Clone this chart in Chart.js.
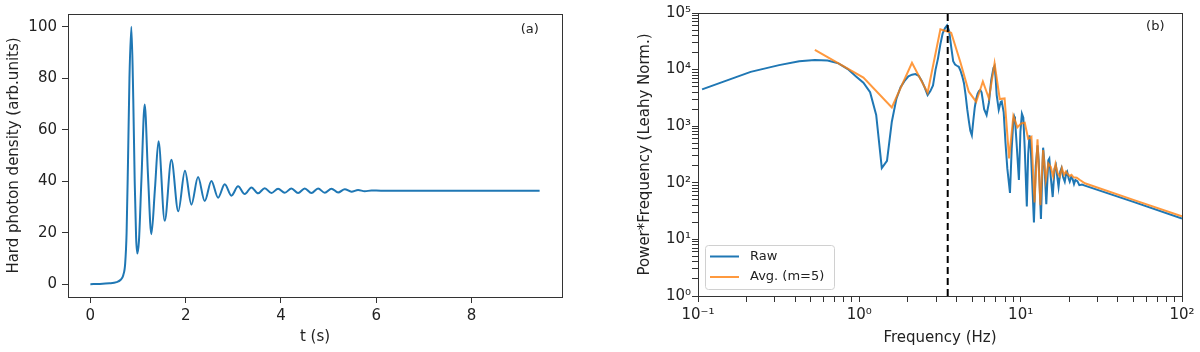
<!DOCTYPE html>
<html>
<head>
<meta charset="utf-8">
<script src="https://cdn.jsdelivr.net/npm/chart.js@4.4.0/dist/chart.umd.min.js"></script>
<style>
  html, body { margin: 0; padding: 0; background: #fff; }
  #wrap { position: relative; width: 1200px; height: 352px; overflow: hidden; }
  .panel { position: absolute; top: 0; width: 600px; height: 352px; }
</style>
</head>
<body>
<div id="wrap">
  <div class="panel" style="left:0"><canvas id="timeChart" width="600" height="352"></canvas></div>
  <div class="panel" style="left:600px"><canvas id="psdChart" width="600" height="352"></canvas></div>
</div>
<script>
// (a) light curve: hard photon density vs time
const timeSec = [0, 0.2, 0.4, 0.55, 0.63, 0.69, 0.73, 0.76, 0.79, 0.82, 0.86, 0.90, 0.93, 0.96, 0.985,
  1.02, 1.07, 1.14, 1.21, 1.28, 1.355, 1.43, 1.56, 1.70, 1.845, 1.985, 2.12, 2.26, 2.40, 2.54, 2.68,
  2.82, 2.96, 3.10, 3.24, 3.38, 3.52, 3.66, 3.80, 3.94, 4.08, 4.22, 4.36, 4.50, 4.64, 4.78, 4.92,
  5.06, 5.20, 5.34, 5.48, 5.62, 5.76, 5.90, 6.10, 9.43];
const photonDensity = [0, 0.05, 0.3, 0.8, 1.6, 3.5, 8, 20, 48, 80, 100, 72, 40, 18, 11.9,
  17, 40, 69.8, 42, 19.4, 37, 55.5, 24.6, 48.3, 28.3, 44.1, 30.9, 41.6, 32.3, 40.1, 33.6,
  38.8, 34.4, 38.0, 35.0, 37.6, 35.3, 37.3, 35.4, 37.1, 35.5, 37.2, 35.4, 37.2, 35.4, 37.2, 35.5,
  37.1, 35.6, 36.9, 35.9, 36.6, 36.1, 36.4, 36.3, 36.3];
const timeTicks = [0, 2, 4, 6, 8];
const densityTicks = [0, 20, 40, 60, 80, 100];

// (b) power spectrum (power * frequency, Leahy norm.)
const rawFreq = [0.106, 0.212, 0.318, 0.424, 0.530, 0.636, 0.742, 0.848, 0.954, 1.060, 1.166, 1.272,
  1.378, 1.484, 1.590, 1.696, 1.802, 1.908, 2.014, 2.120, 2.226, 2.332, 2.438, 2.544, 2.650, 2.756,
  2.862, 2.968, 3.074, 3.180, 3.286, 3.392, 3.498, 3.604, 3.710, 3.816, 3.922, 4.028, 4.134, 4.240,
  4.346, 4.452, 4.558, 4.664, 4.770, 4.876, 4.982, 5.088, 5.194, 5.300, 5.406, 5.512, 5.618, 5.724,
  5.830, 5.936, 6.148, 6.360, 6.572, 6.784, 6.890, 6.996, 7.102, 7.314, 7.526, 7.632, 7.844, 8.056,
  8.268, 8.586, 8.798, 9.010, 9.116, 9.222, 9.434, 9.752, 9.964, 10.176, 10.388, 10.600, 10.918,
  11.130, 11.342, 11.554, 12.084, 12.402, 12.720, 12.932, 13.356, 13.674, 13.780, 13.992, 14.416,
  14.840, 15.052, 15.370, 15.794, 16.218, 16.536, 16.960, 17.172, 17.596, 17.914, 18.338, 18.762,
  19.186, 19.398, 19.822, 20.140, 20.564, 20.988, 21.412, 21.836, 22.472, 23.108, 24.0, 25.0, 50.0, 100.0];
const rawPower = [4470, 9120, 12000, 14100, 14800, 14500, 12900, 10200, 7590, 5890, 3980, 1580,
  182, 245, 1200, 3020, 4900, 6310, 7590, 8130, 8320, 7760, 6310, 4790, 3550, 4170,
  5250, 10000, 15800, 28200, 43600, 53700, 60300, 47900, 25100, 14100, 12300, 11700, 11200, 9550,
  7590, 5750, 3550, 2000, 1260, 830, 690, 1260, 2140, 3020, 3720, 4170, 4370, 3980,
  2820, 2000, 1580, 2630, 6610, 10700, 11500, 7080, 3550, 1950, 2690, 2750, 1780, 500,
  178, 66, 400, 1260, 1480, 1320, 500, 112, 800, 1660, 1410, 400, 38,
  316, 690, 400, 20, 200, 457, 250, 23, 224, 417, 250, 42,
  251, 269, 126, 56, 178, 204, 112, 85, 158, 182, 126, 105,
  151, 158, 120, 105, 126, 117, 95, 112, 107, 91, 93, 89, 46, 23.4];
const avgFreq = [0.53, 1.06, 1.59, 2.12, 2.65, 3.18, 3.71, 4.24, 4.77, 5.30, 5.83, 6.36, 6.89, 7.42,
  7.95, 8.48, 9.01, 9.54, 10.07, 10.60, 11.13, 11.66, 12.19, 12.72, 13.25, 13.78, 14.31, 14.84,
  15.37, 15.90, 16.43, 16.96, 17.49, 18.02, 18.55, 19.08, 19.61, 20.14, 20.67, 21.20, 22.26,
  23.32, 25.0, 50.0, 100.0];
const avgPower = [22400, 7240, 2140, 13200, 3890, 51300, 44700, 13200, 4070, 2690, 6170, 3090, 12900, 3020,
  3090, 269, 1510, 955, 1120, 1150, 600, 650, 45, 589, 40, 380, 112, 219,
  191, 129, 214, 148, 129, 182, 138, 158, 141, 132, 138, 126, 123,
  112, 98, 50, 25.7];
const peakFreq = 3.53;
const freqDecades = [-1, 0, 1, 2];
const powerDecades = [0, 1, 2, 3, 4, 5];

const BLUE = '#1f77b4';
const ORANGE = 'rgba(255,127,14,0.8)';
const INK = '#222';

Chart.defaults.font.family = '"DejaVu Sans", sans-serif';
Chart.defaults.font.size = 15;
Chart.defaults.color = INK;

const SUP = { '-': '⁻', '0': '⁰', '1': '¹', '2': '²', '3': '³', '4': '⁴', '5': '⁵', '6': '⁶', '7': '⁷', '8': '⁸', '9': '⁹' };
const powLabel = (e) => '10' + String(e).split('').map(c => SUP[c]).join('');

// major ticks at 10^n, minor ones at 2..9 x 10^n
const logTicks = (decades) => {
  const out = [];
  decades.forEach((d, i) => {
    for (let m = 1; m <= 9; m++) {
      if (i === decades.length - 1 && m > 1) break;
      out.push({ value: m * Math.pow(10, d), major: m === 1 });
    }
  });
  return out;
};
const logLabel = (v) => {
  const e = Math.log10(v);
  return Math.abs(e - Math.round(e)) < 1e-6 ? powLabel(Math.round(e)) : '';
};

// box round the plot area plus the panel letter
const framePlugin = {
  id: 'frame',
  afterDatasetsDraw(chart, args, o) {
    const { ctx, chartArea: a } = chart;
    ctx.save();
    ctx.strokeStyle = '#333';
    ctx.lineWidth = 1;
    ctx.strokeRect(Math.round(a.left) + 0.5, Math.round(a.top) + 0.5, Math.round(a.width), Math.round(a.height));
    if (o.tag) {
      ctx.fillStyle = INK;
      ctx.font = '13px "DejaVu Sans"';
      ctx.textAlign = 'center';
      ctx.textBaseline = 'middle';
      ctx.fillText(o.tag, o.tagX, o.tagY);
    }
    ctx.restore();
  }
};

// matplotlib-like legend box in the lower left corner
const legendBox = {
  id: 'legendBox',
  afterDraw(chart, args, o) {
    if (!o.show) return;
    const ctx = chart.ctx;
    const items = chart.data.datasets.filter(d => d.label).sort((p, q) => q.order - p.order);
    ctx.save();
    ctx.beginPath();
    ctx.roundRect(o.x + 0.5, o.y + 0.5, o.w, o.h, 3);
    ctx.fillStyle = 'rgba(255,255,255,0.8)';
    ctx.fill();
    ctx.strokeStyle = '#d0d0d0';
    ctx.lineWidth = 1;
    ctx.stroke();
    ctx.font = '13px "DejaVu Sans"';
    ctx.textBaseline = 'middle';
    items.forEach((d, i) => {
      const y = o.y + 11.5 + i * 20.5;
      ctx.strokeStyle = d.borderColor;
      ctx.lineWidth = 2;
      ctx.beginPath();
      ctx.moveTo(o.x + 5, y);
      ctx.lineTo(o.x + 34, y);
      ctx.stroke();
      ctx.fillStyle = INK;
      ctx.fillText(d.label, o.x + 45, y);
    });
    ctx.restore();
  }
};

const tickGrid = { drawOnChartArea: false, drawTicks: true, tickLength: 6, tickColor: '#333', tickWidth: 1 };
const border = { display: true, color: '#333', width: 1 };

// ---- panel (a)
new Chart(document.getElementById('timeChart'), {
  type: 'line',
  data: {
    datasets: [{
      data: timeSec.map((t, i) => ({ x: t, y: photonDensity[i] })),
      borderColor: BLUE,
      borderWidth: 2,
      pointRadius: 0,
      cubicInterpolationMode: 'monotone',
      fill: false
    }]
  },
  options: {
    responsive: false,
    animation: false,
    devicePixelRatio: 1,
    layout: { padding: { top: 8, right: 38, left: 0, bottom: 0 } },
    plugins: {
      legend: { display: false },
      tooltip: { enabled: false },
      frame: { tag: '(a)', tagX: 529.7, tagY: 30 },
      legendBox: { show: false }
    },
    scales: {
      x: {
        type: 'linear',
        min: -0.47, max: 9.9,
        afterBuildTicks: (ax) => { ax.ticks = timeTicks.map(v => ({ value: v })); },
        afterFit: (ax) => { ax.height = 55; },
        grid: tickGrid, border,
        ticks: { padding: 4, maxRotation: 0, autoSkip: false },
        title: { display: true, text: 't (s)', padding: { top: 0, bottom: 6 } }
      },
      y: {
        type: 'linear',
        min: -5, max: 105,
        afterBuildTicks: (ax) => { ax.ticks = densityTicks.map(v => ({ value: v })); },
        afterFit: (ax) => { ax.width = 68; },
        grid: tickGrid, border,
        ticks: { padding: 5 },
        title: { display: true, text: 'Hard photon density (arb.units)', padding: { top: 5.5, bottom: 0 } }
      }
    }
  },
  plugins: [framePlugin, legendBox]
});

// ---- panel (b)
new Chart(document.getElementById('psdChart'), {
  type: 'line',
  data: {
    datasets: [
      {
        label: 'Raw',
        order: 3,
        data: rawFreq.map((f, i) => ({ x: f, y: rawPower[i] })),
        borderColor: BLUE, borderWidth: 2, pointRadius: 0, tension: 0, fill: false
      },
      {
        label: 'Avg. (m=5)',
        order: 2,
        data: avgFreq.map((f, i) => ({ x: f, y: avgPower[i] })),
        borderColor: ORANGE, borderWidth: 2, pointRadius: 0, tension: 0, fill: false
      },
      {
        order: 1,
        data: [{ x: peakFreq, y: 1 }, { x: peakFreq, y: 1e5 }],
        borderColor: '#000', borderWidth: 2, borderDash: [7, 4], pointRadius: 0, fill: false
      }
    ]
  },
  options: {
    responsive: false,
    animation: false,
    devicePixelRatio: 1,
    layout: { padding: { top: 13, right: 18, left: 0, bottom: 0 } },
    plugins: {
      legend: { display: false },
      tooltip: { enabled: false },
      frame: { tag: '(b)', tagX: 555.3, tagY: 26.7 },
      legendBox: { show: true, x: 105, y: 245, w: 129, h: 44 }
    },
    scales: {
      x: {
        type: 'logarithmic',
        min: 0.1, max: 100,
        afterBuildTicks: (ax) => { ax.ticks = logTicks(freqDecades); },
        afterFit: (ax) => { ax.height = 56; },
        grid: tickGrid, border,
        ticks: { padding: 4, maxRotation: 0, autoSkip: false, callback: (v) => logLabel(v) },
        title: { display: true, text: 'Frequency (Hz)', padding: { top: 0, bottom: 5 } }
      },
      y: {
        type: 'logarithmic',
        min: 1, max: 1e5,
        afterBuildTicks: (ax) => { ax.ticks = logTicks(powerDecades); },
        afterFit: (ax) => { ax.width = 98; },
        grid: tickGrid, border,
        ticks: { padding: 1, autoSkip: false, callback: (v) => logLabel(v) },
        title: { display: true, text: 'Power*Frequency (Leahy Norm.)', padding: { top: 36, bottom: 0 } }
      }
    }
  },
  plugins: [framePlugin, legendBox]
});
</script>
</body>
</html>
